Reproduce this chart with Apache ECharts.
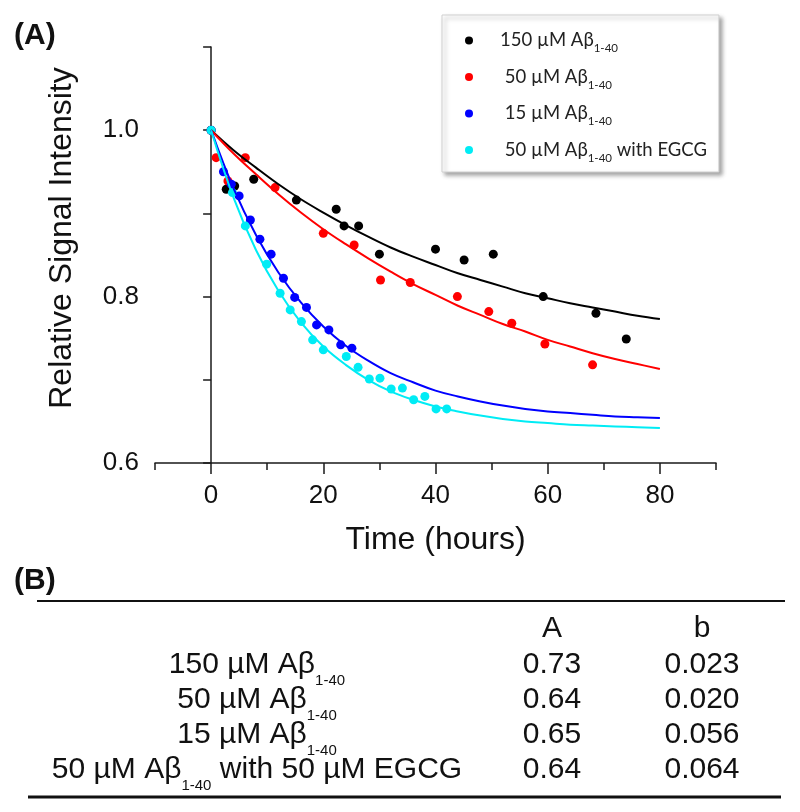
<!DOCTYPE html>
<html><head><meta charset="utf-8">
<script src="https://cdn.jsdelivr.net/npm/echarts@6/dist/echarts.min.js"></script>
<style>html,body{margin:0;padding:0;background:#fff}#c{width:800px;height:812px}</style>
</head><body><div id="c"></div>
<script>
// ---- data ----
const seriesNames = ['150 µM Aβ1-40', '50 µM Aβ1-40', '15 µM Aβ1-40', '50 µM Aβ1-40 with EGCG'];
const seriesColors = ['#000000', '#ff0000', '#0000ff', '#00ecf5'];

const blackT = [0, 2.7, 4.2, 7.6, 15.2, 22.3, 23.7, 26.3, 30.0, 40.0, 45.1, 50.3, 59.2, 68.6, 74.0];
const blackV = [1.0, 0.929, 0.933, 0.941, 0.916, 0.905, 0.885, 0.885, 0.851, 0.857, 0.844, 0.851, 0.800, 0.780, 0.749];

const redT = [0, 0.9, 3.0, 6.1, 11.4, 20.0, 25.5, 30.2, 35.5, 43.9, 49.5, 53.6, 59.5, 68.0];
const redV = [1.0, 0.967, 0.939, 0.967, 0.931, 0.876, 0.862, 0.820, 0.817, 0.800, 0.782, 0.768, 0.743, 0.718];

const blueT = [0, 2.2, 3.6, 5.0, 7.0, 8.7, 10.7, 12.9, 14.9, 17.0, 18.8, 21.0, 23.1, 25.1];
const blueV = [1.0, 0.950, 0.935, 0.921, 0.892, 0.869, 0.851, 0.822, 0.799, 0.787, 0.766, 0.760, 0.742, 0.738];

const cyanT = [0, 3.8, 6.1, 9.9, 12.3, 14.1, 16.1, 18.1, 20.0, 24.1, 26.2, 28.2, 30.1, 32.1, 34.1, 36.1, 38.1, 40.1, 42.0];
const cyanV = [1.0, 0.925, 0.885, 0.839, 0.804, 0.784, 0.770, 0.748, 0.736, 0.728, 0.715, 0.701, 0.702, 0.689, 0.690, 0.676, 0.680, 0.665, 0.665];

// fitted curves
const curveT = [0, 4, 8, 12, 16, 20, 24, 28, 32, 36, 40, 44, 48, 52, 56, 60, 64, 68, 72, 76, 80];
const fitBlack = [1.000, 0.976, 0.955, 0.935, 0.917, 0.901, 0.886, 0.872, 0.859, 0.848, 0.838, 0.828, 0.820, 0.812, 0.804, 0.798, 0.792, 0.787, 0.782, 0.777, 0.773];
const fitRed = [1.000, 0.972, 0.947, 0.923, 0.901, 0.881, 0.863, 0.846, 0.830, 0.815, 0.802, 0.789, 0.778, 0.767, 0.758, 0.748, 0.740, 0.732, 0.725, 0.719, 0.713];
const fitBlue = [1.000, 0.930, 0.874, 0.829, 0.793, 0.764, 0.741, 0.723, 0.708, 0.697, 0.687, 0.680, 0.674, 0.669, 0.665, 0.662, 0.660, 0.658, 0.656, 0.655, 0.654];
const fitCyan = [1.000, 0.919, 0.856, 0.807, 0.769, 0.740, 0.718, 0.700, 0.686, 0.676, 0.668, 0.662, 0.657, 0.653, 0.650, 0.648, 0.646, 0.645, 0.644, 0.643, 0.642];

const xLabelTicks = [0, 20, 40, 60, 80];
const yLabelTicks = [0.6, 0.8, 1.0];

// table (B)
const tableHeader = ['A', 'b'];
const tableRowMain = ['150 µM Aβ', '50 µM Aβ', '15 µM Aβ', '50 µM Aβ'];
const tableRowSub = ['1-40', '1-40', '1-40', '1-40'];
const tableRowTail = ['', '', '', ' with 50 µM EGCG'];
const tableA = ['0.73', '0.64', '0.65', '0.64'];
const tableB = ['0.023', '0.020', '0.056', '0.064'];

// ---- build ----
const pts = (t, v) => t.map((x, i) => [x, v[i]]);
const scatterData = [pts(blackT, blackV), pts(redT, redV), pts(blueT, blueV), pts(cyanT, cyanV)];
const fitData = [pts(curveT, fitBlack), pts(curveT, fitRed), pts(curveT, fitBlue), pts(curveT, fitCyan)];

const AX = '#1a1a1a';
const FONT = '"Liberation Sans", Arial, sans-serif';
const LFONT = 'Lato, "Open Sans", sans-serif';

const series = [];
scatterData.forEach((d, i) => series.push({
  name: seriesNames[i], type: 'scatter', data: d, symbol: 'circle', symbolSize: 9,
  itemStyle: { color: seriesColors[i], opacity: 1 }, z: 2
}));
fitData.forEach((d, i) => series.push({
  name: 'fit ' + seriesNames[i], type: 'line', data: d, smooth: 0.4, showSymbol: false, symbol: 'none',
  lineStyle: { color: seriesColors[i], width: 2 }, z: 3
}));

const legendFmt = {
  '150 µM Aβ1-40': '{m|150 µM Aβ}{s|1-40}',
  '50 µM Aβ1-40': '{m| 50 µM Aβ}{s|1-40}',
  '15 µM Aβ1-40': '{m| 15 µM Aβ}{s|1-40}',
  '50 µM Aβ1-40 with EGCG': '{m| 50 µM Aβ}{s|1-40}{m| with EGCG}'
};

const TFS = 30;
const graphic = [];
graphic.push({ type: 'text', left: 14, top: 21, style: { text: '(A)', font: 'bold 30px ' + FONT, fill: '#111' } });
graphic.push({ type: 'text', left: 14, top: 566, style: { text: '(B)', font: 'bold 30px ' + FONT, fill: '#111' } });
graphic.push({ type: 'text', x: 62, y: 238, rotation: Math.PI / 2,
  style: { text: 'Relative Signal Intensity', fontSize: 32, fontFamily: FONT, fill: '#111', align: 'center', verticalAlign: 'middle' } });
graphic.push({ type: 'line', shape: { x1: 37, y1: 601, x2: 785, y2: 601 }, style: { stroke: '#111', lineWidth: 2 } });
graphic.push({ type: 'line', shape: { x1: 28, y1: 797, x2: 781, y2: 797 }, style: { stroke: '#111', lineWidth: 3 } });
const colAX = 552, colBX = 702, labelX = 257;
const richT = {
  m: { fontSize: TFS, lineHeight: 46, fontFamily: FONT, fill: '#111', color: '#111' },
  s: { fontSize: 15, lineHeight: 15, verticalAlign: 'bottom', fontFamily: FONT, fill: '#111', color: '#111' }
};
graphic.push({ type: 'text', x: colAX, y: 629, style: { text: tableHeader[0], fontSize: TFS, fontFamily: FONT, fill: '#111', align: 'center', verticalAlign: 'middle' } });
graphic.push({ type: 'text', x: colBX, y: 629, style: { text: tableHeader[1], fontSize: TFS, fontFamily: FONT, fill: '#111', align: 'center', verticalAlign: 'middle' } });
const rowY = [665, 700, 735, 770];
tableRowMain.forEach((r, i) => {
  let txt = '{m|' + r + '}{s|' + tableRowSub[i] + '}' + (tableRowTail[i] ? '{m|' + tableRowTail[i] + '}' : '');
  graphic.push({ type: 'text', x: labelX, y: rowY[i], style: { text: txt, rich: richT, align: 'center', verticalAlign: 'middle', fill: '#111' } });
  graphic.push({ type: 'text', x: colAX, y: rowY[i], style: { text: tableA[i], fontSize: TFS, fontFamily: FONT, fill: '#111', align: 'center', verticalAlign: 'middle' } });
  graphic.push({ type: 'text', x: colBX, y: rowY[i], style: { text: tableB[i], fontSize: TFS, fontFamily: FONT, fill: '#111', align: 'center', verticalAlign: 'middle' } });
});

const chart = echarts.init(document.getElementById('c'), null, { renderer: 'canvas' });
chart.setOption({
  animation: false,
  backgroundColor: '#fff',
  grid: { left: 155, right: 84, top: 47, bottom: 349, containLabel: false },
  xAxis: [{
    type: 'value', min: -10, max: 90, interval: 10,
    axisLine: { show: true, lineStyle: { color: AX, width: 1.5 } },
    axisTick: { show: true, length: 7, lineStyle: { color: AX, width: 1.5 } },
    axisLabel: { show: false }, splitLine: { show: false },
    name: 'Time (hours)', nameLocation: 'middle', nameGap: 61,
    nameTextStyle: { fontSize: 32, fontFamily: FONT, color: '#111' }
  }, {
    type: 'value', min: -10, max: 90, interval: 10, position: 'bottom',
    axisLine: { show: false },
    axisTick: { show: true, length: 11, customValues: xLabelTicks, lineStyle: { color: AX, width: 1.5 } },
    axisLabel: { show: true, customValues: xLabelTicks, margin: 20, fontSize: 26, fontFamily: FONT, color: '#111' },
    splitLine: { show: false }
  }],
  yAxis: {
    type: 'value', min: 0.6, max: 1.1, interval: 0.1,
    axisLine: { show: true, lineStyle: { color: AX, width: 1.5 } },
    axisTick: { show: true, length: 8, lineStyle: { color: AX, width: 1.5 } },
    axisLabel: { show: true, customValues: yLabelTicks, margin: 16, fontSize: 26, fontFamily: FONT, color: '#111', formatter: v => v.toFixed(1) },
    splitLine: { show: false }
  },
  legend: {
    data: seriesNames.map(n => ({ name: n, icon: 'circle' })),
    orient: 'vertical', left: 442, top: 15,
    padding: [16, 12, 8, 23],
    itemWidth: 8, itemHeight: 8, itemGap: 13,
    selectedMode: false,
    backgroundColor: '#fff', borderColor: '#d0d0d0', borderWidth: 1,
    shadowColor: 'rgba(0,0,0,0.35)', shadowBlur: 4, shadowOffsetX: 3, shadowOffsetY: 3,
    formatter: n => legendFmt[n],
    textStyle: {
      padding: [0, 0, 0, 22],
      rich: {
        m: { fontSize: 18.5, lineHeight: 28, fontFamily: LFONT, color: '#222' },
        s: { fontSize: 11.5, lineHeight: 12, verticalAlign: 'bottom', fontFamily: LFONT, color: '#222' }
      }
    }
  },
  graphic: graphic,
  series: series
});
</script>
</body></html>
